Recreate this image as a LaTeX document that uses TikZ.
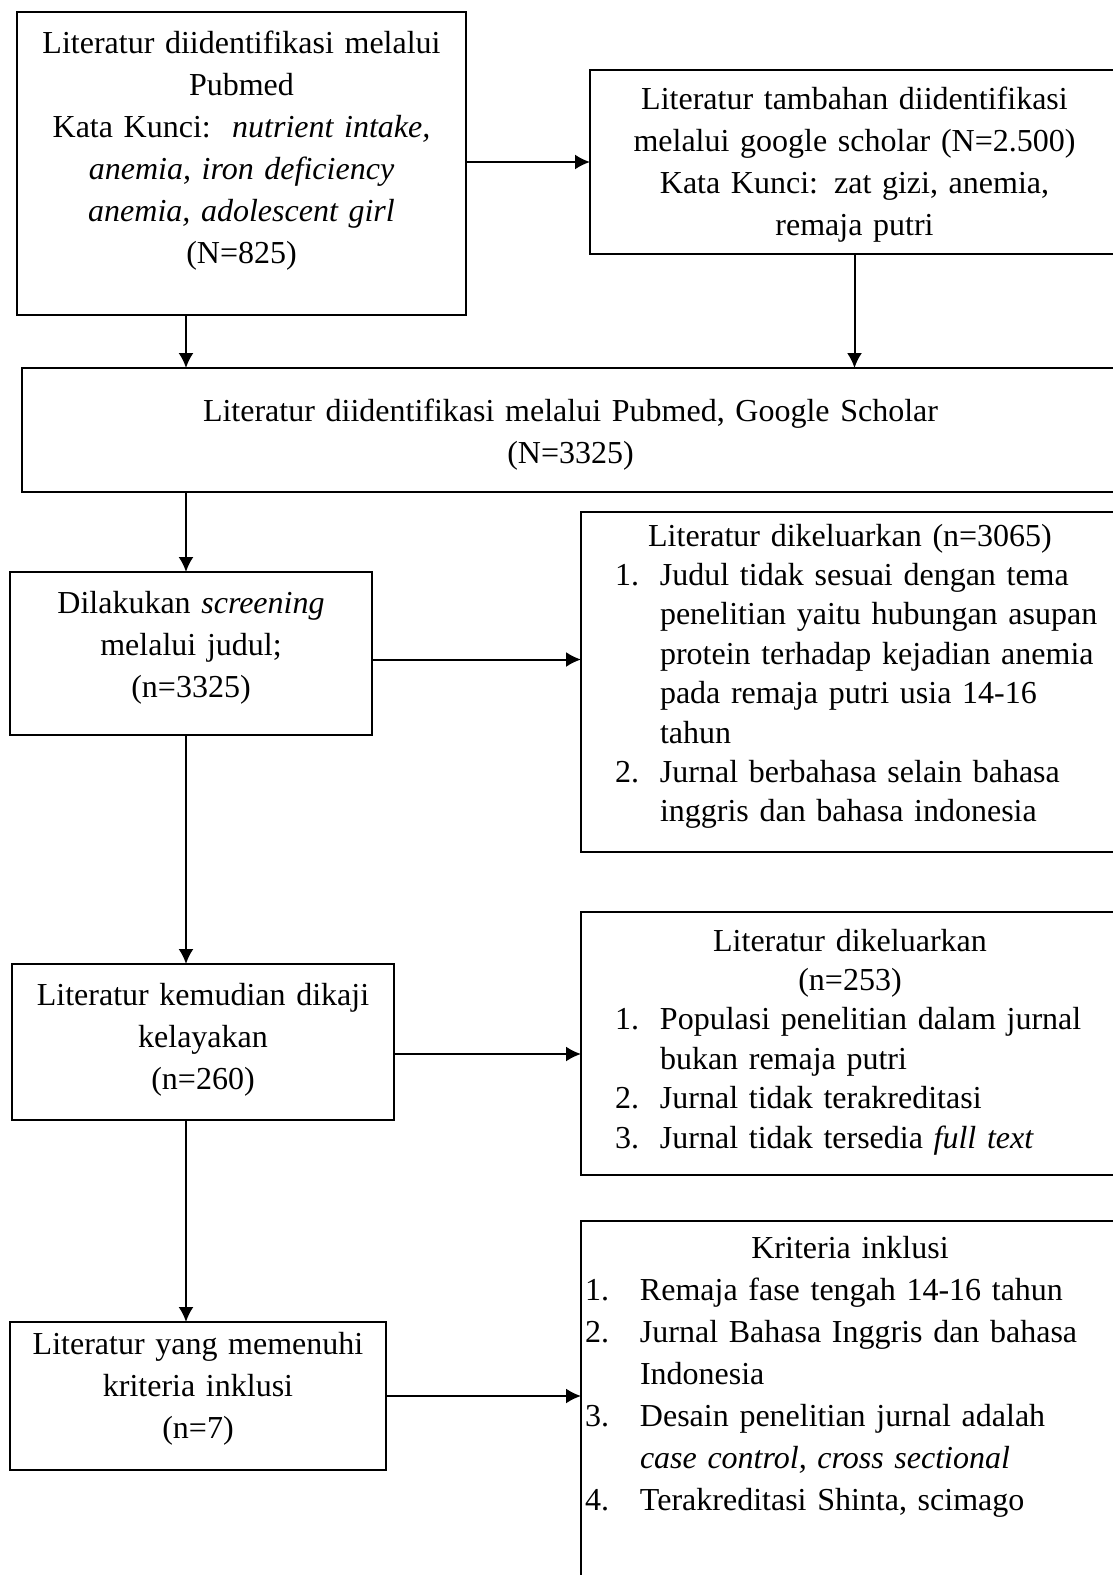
\documentclass[tikz,border=0pt]{standalone}
\usepackage{fontspec}
\setmainfont{Liberation Serif}
\usetikzlibrary{arrows.meta}

\newcommand{\hdr}[1]{{\centering #1\par}}
\newcommand{\litem}[4]{{\par\leftskip=#1\rightskip=0pt plus 1fil\hangindent=#2\hangafter=1\noindent\makebox[#2][l]{#3}#4\par}}

\begin{document}
\begin{tikzpicture}[x=0.5pt,y=-0.5pt,
  box/.style={draw, line width=1.4pt, anchor=north west, inner sep=0pt, outer sep=0pt,
    font=\fontsize{16pt}{21pt}\selectfont},
  tight/.style={font=\fontsize{16pt}{19.7pt}\selectfont},
  arr/.style={line width=1pt, -{Latex[length=7.5pt,width=7.5pt]}}]
\useasboundingbox (0,0) rectangle (1113,1575);
\coordinate (spine) at (186,0);
\node[box, text width=224.5pt, text height=20.5pt, text depth=131pt] (pubmed) at (17,12)
  {\hdr{Literatur diidentifikasi melalui\\ Pubmed\\ Kata Kunci:\ \ \textit{nutrient intake,}\\
   \textit{anemia, iron deficiency}\\ \textit{anemia, adolescent girl}\\ (N=825)}};
\node[box, text width=264.5pt, text height=19.5pt, text depth=72.5pt] (scholar) at (590,70)
  {\hdr{Literatur tambahan diidentifikasi\\ melalui google scholar (N=2.500)\\
   Kata Kunci: zat gizi, anemia,\\ remaja putri}};
\node[box, text width=548.5pt, text height=26.5pt, text depth=35.5pt] (merged) at (22,368)
  {\hdr{Literatur diidentifikasi melalui Pubmed, Google Scholar\\ (N=3325)}};
\node[box, text width=181pt, text height=20.5pt, text depth=61pt] (screen) at (10,572)
  {\hdr{Dilakukan \textit{screening}\\ melalui judul;\\ (n=3325)}};
\node[box, tight, text width=269pt, text height=17pt, text depth=153pt] (excl1) at (581,512)
  {\hdr{Literatur dikeluarkan (n=3065)}
   \litem{17pt}{22.5pt}{1.}{Judul tidak sesuai dengan tema\newline penelitian yaitu hubungan asupan\newline
     protein terhadap kejadian anemia\newline pada remaja putri usia 14-16\newline tahun}
   \litem{17pt}{22.5pt}{2.}{Jurnal berbahasa selain bahasa\newline inggris dan bahasa indonesia}};
\node[box, text width=191pt, text height=20.5pt, text depth=57.5pt] (elig) at (12,964)
  {\hdr{Literatur kemudian dikaji\\ kelayakan\\ (n=260)}};
\node[box, tight, text width=269pt, text height=19.5pt, text depth=112pt] (excl2) at (581,912)
  {\hdr{Literatur dikeluarkan\\ (n=253)}
   \litem{17pt}{22.5pt}{1.}{Populasi penelitian dalam jurnal\newline bukan remaja putri}
   \litem{17pt}{22.5pt}{2.}{Jurnal tidak terakreditasi}
   \litem{17pt}{22.5pt}{3.}{Jurnal tidak tersedia \textit{full text}}};
\node[box, text width=188pt, text height=16pt, text depth=58pt] (incl) at (10,1322)
  {\hdr{Literatur yang memenuhi\\ kriteria inklusi\\ (n=7)}};
\node[box, text width=269pt, text height=18.5pt, text depth=200pt] (crit) at (581,1221)
  {\hdr{Kriteria inklusi}
   \litem{2pt}{27.5pt}{1.}{Remaja fase tengah 14-16 tahun}
   \litem{2pt}{27.5pt}{2.}{Jurnal Bahasa Inggris dan bahasa\newline Indonesia}
   \litem{2pt}{27.5pt}{3.}{Desain penelitian jurnal adalah\newline \textit{case control, cross sectional}}
   \litem{2pt}{27.5pt}{4.}{Terakreditasi Shinta, scimago}};
\draw[arr] (pubmed.east |- scholar.west) -- (scholar.west);
\draw[arr] (pubmed.south -| spine) -- (merged.north -| spine);
\draw[arr] (scholar.south) -- (scholar.south |- merged.north);
\draw[arr] (merged.south -| spine) -- (screen.north -| spine);
\draw[arr] ([yshift=-3pt]screen.east) -- ([yshift=-3pt]screen.east -| excl1.west);
\draw[arr] (screen.south -| spine) -- (elig.north -| spine);
\draw[arr] ([yshift=-6pt]elig.east) -- ([yshift=-6pt]elig.east -| excl2.west);
\draw[arr] (elig.south -| spine) -- (incl.north -| spine);
\draw[arr] (incl.east) -- (incl.east -| crit.west);
\end{tikzpicture}
\end{document}
